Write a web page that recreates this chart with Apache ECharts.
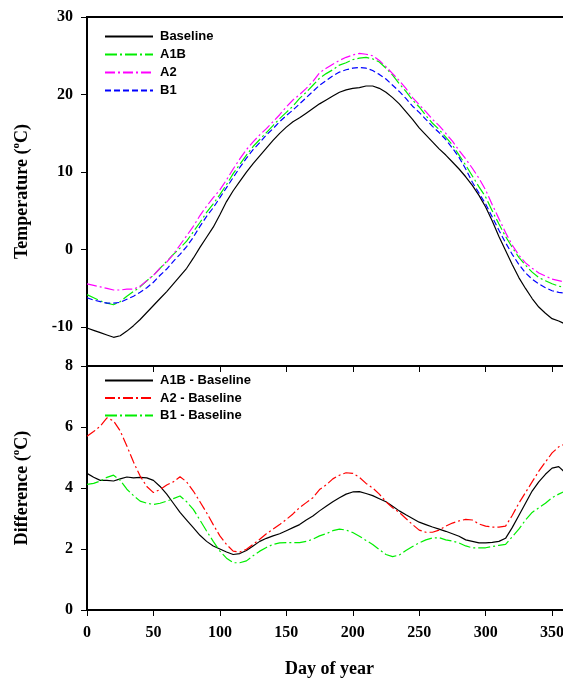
<!DOCTYPE html>
<html>
<head>
<meta charset="utf-8">
<script src="https://cdn.jsdelivr.net/npm/echarts@6/dist/echarts.min.js"></script>
<style>
  html, body { margin: 0; padding: 0; background: #fff; }
  #chart { width: 563px; height: 684px; }
</style>
</head>
<body>
<div id="chart"></div>
<script>
// day of year, every 5 days
var days = [];
for (var d = 0; d <= 360; d += 5) days.push(d);

var tempBaseline = [-10.1,-10.4,-10.7,-11.0,-11.3,-11.1,-10.5,-9.8,-9.0,-8.1,-7.2,-6.3,-5.4,-4.4,-3.4,-2.4,-1.1,0.3,1.6,2.9,4.5,6.2,7.6,8.8,10.0,11.1,12.1,13.1,14.1,15.0,15.8,16.5,17.0,17.6,18.2,18.8,19.3,19.8,20.3,20.6,20.8,20.9,21.1,21.1,20.8,20.3,19.6,18.8,17.8,16.8,15.7,14.8,13.9,13.0,12.2,11.3,10.4,9.4,8.3,7.0,5.5,3.7,1.7,-0.1,-1.9,-3.6,-5.0,-6.3,-7.4,-8.2,-8.9,-9.2,-9.6];
var tempA1B = [-5.8,-6.2,-6.6,-6.9,-7.1,-6.7,-6.0,-5.4,-4.8,-4.0,-3.3,-2.4,-1.5,-0.6,0.2,1.1,2.3,3.5,4.8,5.9,7.1,8.4,9.8,11.0,12.2,13.3,14.2,15.1,16.0,16.9,17.7,18.5,19.5,20.3,21.2,22.1,22.7,23.2,23.8,24.1,24.5,24.7,24.8,24.6,24.2,23.4,22.5,21.4,20.4,19.3,18.4,17.3,16.3,15.5,14.5,13.5,12.2,10.9,9.5,8.1,6.8,5.0,3.3,1.7,0.3,-1.0,-2.0,-2.9,-3.6,-4.0,-4.4,-4.7,-4.9];
var tempA2 = [-4.4,-4.6,-4.8,-5.0,-5.2,-5.2,-5.1,-5.1,-4.7,-4.0,-3.3,-2.4,-1.6,-0.6,0.6,1.8,3.0,4.4,5.6,6.7,7.7,9.0,10.4,11.7,12.9,13.9,14.8,15.6,16.5,17.4,18.4,19.3,20.0,20.8,21.7,22.8,23.4,23.9,24.4,24.8,25.1,25.3,25.2,25.0,24.4,23.6,22.7,21.8,20.8,19.6,18.7,17.8,16.8,16.0,15.0,14.0,12.8,11.7,10.5,9.2,7.7,5.8,4.0,2.2,0.6,-0.7,-1.7,-2.4,-3.0,-3.4,-3.8,-4.0,-4.2];
var tempB1 = [-6.2,-6.5,-6.7,-6.9,-6.9,-6.8,-6.4,-6.0,-5.5,-4.9,-4.2,-3.3,-2.5,-1.5,-0.6,0.4,1.6,3.0,4.3,5.4,6.7,8.0,9.3,10.6,11.8,12.9,13.8,14.8,15.6,16.5,17.3,18.0,18.8,19.6,20.4,21.2,21.8,22.4,22.9,23.2,23.4,23.5,23.4,23.1,22.6,22.0,21.2,20.4,19.5,18.5,17.7,16.8,15.9,15.1,14.2,13.1,11.9,10.4,8.7,7.3,5.9,4.2,2.5,0.9,-0.6,-1.9,-3.0,-3.8,-4.4,-4.9,-5.3,-5.5,-5.6];

var diffA1B = [4.48,4.35,4.25,4.25,4.23,4.3,4.36,4.33,4.35,4.33,4.25,4.05,3.8,3.5,3.2,2.95,2.7,2.45,2.25,2.1,2.0,1.9,1.82,1.85,1.95,2.1,2.25,2.35,2.43,2.5,2.6,2.7,2.8,2.95,3.08,3.25,3.4,3.55,3.68,3.8,3.87,3.88,3.82,3.75,3.65,3.55,3.4,3.25,3.12,3.0,2.88,2.8,2.72,2.65,2.58,2.5,2.42,2.3,2.25,2.2,2.2,2.22,2.25,2.35,2.7,3.1,3.5,3.9,4.2,4.45,4.65,4.7,4.5];
var diffA2 = [5.7,5.85,6.03,6.3,6.2,5.87,5.38,4.85,4.39,4.05,3.85,3.95,4.1,4.2,4.37,4.2,3.9,3.55,3.19,2.8,2.43,2.15,1.93,1.9,1.99,2.15,2.32,2.5,2.65,2.8,2.97,3.15,3.36,3.52,3.68,3.95,4.1,4.3,4.42,4.5,4.48,4.35,4.15,4.0,3.8,3.55,3.35,3.2,3.0,2.8,2.62,2.55,2.55,2.62,2.75,2.85,2.92,2.97,2.95,2.82,2.75,2.72,2.72,2.75,3.1,3.5,3.85,4.2,4.55,4.85,5.15,5.35,5.45];
var diffB1 = [4.12,4.15,4.23,4.35,4.42,4.25,3.96,3.75,3.57,3.5,3.46,3.5,3.57,3.65,3.74,3.55,3.3,2.95,2.59,2.25,1.93,1.7,1.55,1.55,1.61,1.78,1.93,2.05,2.15,2.2,2.21,2.21,2.21,2.25,2.32,2.43,2.5,2.6,2.65,2.62,2.54,2.42,2.28,2.15,1.98,1.82,1.75,1.8,1.95,2.08,2.2,2.3,2.36,2.37,2.3,2.26,2.2,2.1,2.04,2.04,2.04,2.08,2.12,2.15,2.4,2.65,2.95,3.2,3.35,3.5,3.68,3.8,3.9];

var tempTicks = [-10, 0, 10, 20, 30];

function pairs(vals) {
  return days.map(function (d, i) { return [d, vals[i]]; });
}

var serif = 'Liberation Serif';
var sans = 'Liberation Sans';

var titleRich = {
  n: { fontFamily: serif, fontWeight: 'bold', fontSize: 18, color: '#000', lineHeight: 22 },
  s: { fontFamily: serif, fontWeight: 'bold', fontSize: 11, color: '#000', lineHeight: 22, verticalAlign: 'top', padding: [0, 0, 8, 0] }
};

var labelStyle = { fontFamily: serif, fontWeight: 'bold', fontSize: 16, color: '#000' };
var legendText = { fontFamily: sans, fontWeight: 'bold', fontSize: 13, color: '#000', padding: [0, 0, 0, 2] };

function line(name, vals, color, dash, xi) {
  return {
    name: name,
    type: 'line',
    xAxisIndex: xi,
    yAxisIndex: xi,
    symbol: 'none',
    animation: false,
    lineStyle: { color: color, width: 1.2, type: dash },
    itemStyle: { color: color },
    data: pairs(vals)
  };
}

var chart = echarts.init(document.getElementById('chart'));
var option = {
  backgroundColor: '#fff',
  animation: false,
  grid: [
    { left: 87, right: -9, top: 17, height: 349, show: true, borderColor: '#000', borderWidth: 2, outerBoundsMode: 'none' },
    { left: 87, right: -9, top: 366, height: 244, show: true, borderColor: '#000', borderWidth: 2, outerBoundsMode: 'none' }
  ],
  legend: [
    {
      orient: 'vertical', left: 99, top: 25, itemWidth: 48, itemHeight: 10, itemGap: 5,
      itemStyle: { opacity: 0 },
      textStyle: legendText,
      data: ['Baseline', 'A1B', 'A2', 'B1']
    },
    {
      orient: 'vertical', left: 99, top: 369, itemWidth: 48, itemHeight: 10, itemGap: 4.5,
      itemStyle: { opacity: 0 },
      textStyle: legendText,
      data: ['A1B - Baseline', 'A2 - Baseline', 'B1 - Baseline']
    }
  ],
  xAxis: [
    {
      type: 'value', gridIndex: 0, min: 0, max: 365, interval: 50,
      axisLine: { onZero: false, lineStyle: { color: '#000', width: 2 } },
      axisTick: { length: 6, lineStyle: { color: '#000', width: 1 } },
      axisLabel: { show: false },
      splitLine: { show: false }
    },
    {
      type: 'value', gridIndex: 1, min: 0, max: 365, interval: 50,
      name: 'Day of year', nameLocation: 'middle', nameGap: 50,
      nameTextStyle: { fontFamily: serif, fontWeight: 'bold', fontSize: 18, color: '#000' },
      axisLine: { onZero: false, lineStyle: { color: '#000', width: 2 } },
      axisTick: { length: 6, lineStyle: { color: '#000', width: 1 } },
      axisLabel: Object.assign({ margin: 15 }, labelStyle),
      splitLine: { show: false }
    }
  ],
  yAxis: [
    {
      type: 'value', gridIndex: 0, min: -15, max: 30, interval: 5,
      name: '{n|Temperature (}{s|o}{n|C)}', nameLocation: 'middle', nameGap: 54, nameRotate: 90,
      nameTextStyle: { rich: titleRich },
      axisLine: { show: true, onZero: false, lineStyle: { color: '#000', width: 2 } },
      axisTick: { show: true, length: 6, customValues: tempTicks, lineStyle: { color: '#000', width: 1 } },
      axisLabel: Object.assign({ margin: 14, customValues: tempTicks }, labelStyle),
      splitLine: { show: false }
    },
    {
      type: 'value', gridIndex: 1, min: 0, max: 8, interval: 2,
      name: '{n|Difference (}{s|o}{n|C)}', nameLocation: 'middle', nameGap: 54, nameRotate: 90,
      nameTextStyle: { rich: titleRich },
      axisLine: { show: true, onZero: false, lineStyle: { color: '#000', width: 2 } },
      axisTick: { show: true, length: 6, lineStyle: { color: '#000', width: 1 } },
      axisLabel: Object.assign({ margin: 14 }, labelStyle),
      splitLine: { show: false }
    }
  ],
  series: [
    line('Baseline', tempBaseline, '#000000', 'solid', 0),
    line('A1B', tempA1B, '#00ee00', [12, 3, 2, 3], 0),
    line('A2', tempA2, '#ff00ff', [10, 3, 2, 3], 0),
    line('B1', tempB1, '#0000ff', [6, 3], 0),
    line('A1B - Baseline', diffA1B, '#000000', 'solid', 1),
    line('A2 - Baseline', diffA2, '#ff0000', [10, 3, 2, 3], 1),
    line('B1 - Baseline', diffB1, '#00ee00', [12, 3, 2, 3], 1)
  ]
};
chart.setOption(option);
</script>
</body>
</html>
